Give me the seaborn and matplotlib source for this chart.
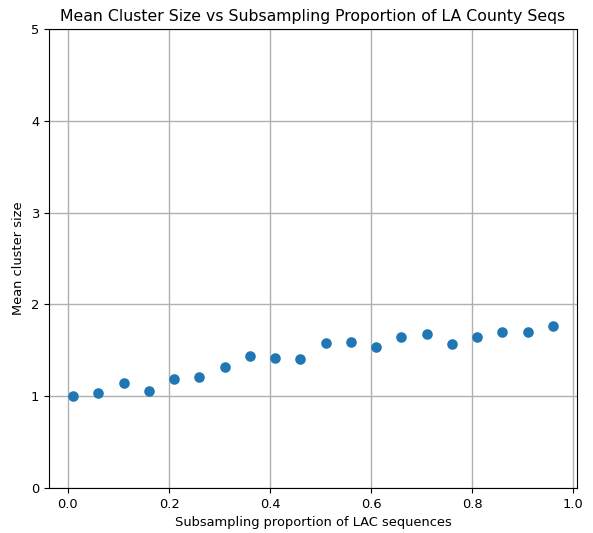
import matplotlib
matplotlib.use("Agg")
import matplotlib.pyplot as plt
import seaborn as sns
import pandas as pd

proportions = [0.01, 0.06, 0.11, 0.16, 0.21, 0.26, 0.31, 0.36, 0.41, 0.46,
               0.51, 0.56, 0.61, 0.66, 0.71, 0.76, 0.81, 0.86, 0.91, 0.96]
mean_sizes = [1.00, 1.03, 1.14, 1.06, 1.19, 1.21, 1.32, 1.44, 1.42, 1.41,
              1.58, 1.59, 1.54, 1.64, 1.68, 1.57, 1.65, 1.70, 1.70, 1.77]

df = pd.DataFrame({"p": proportions, "m": mean_sizes})

plt.rcParams["font.size"] = 9.4
fig = plt.figure(figsize=(5.93, 5.33), dpi=100)
ax = fig.add_axes([0.0826, 0.0844, 0.973 - 0.0826, 0.9456 - 0.0844])
sns.scatterplot(data=df, x="p", y="m", ax=ax, color="#1f77b4", s=58, linewidth=0, zorder=3)
ax.set_ylim(0, 5)
ax.grid(True, color="#b0b0b0", linewidth=1.0)
ax.set_axisbelow(True)
ax.tick_params(labelsize=9.4)
ax.set_xlabel("Subsampling proportion of LAC sequences", fontsize=9.4)
ax.set_ylabel("Mean cluster size", fontsize=9.4)
ax.set_title("Mean Cluster Size vs Subsampling Proportion of LA County Seqs", fontsize=11.3)
fig.savefig("out.png", dpi=100)
